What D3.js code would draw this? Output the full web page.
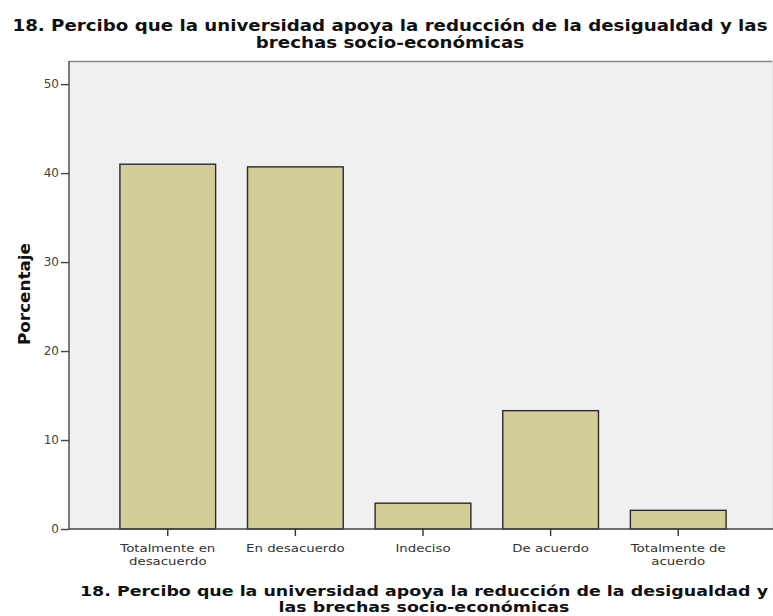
<!DOCTYPE html>
<html><head><meta charset="utf-8">
<script src="https://cdn.jsdelivr.net/npm/d3@7"></script>
<style>body{margin:0;background:#fff}</style>
</head><body>
<svg id="c" width="773" height="616"></svg>
<script>
const categories = ["Totalmente en desacuerdo", "En desacuerdo", "Indeciso", "De acuerdo", "Totalmente de acuerdo"];
const labelLines = [["Totalmente en","desacuerdo"],["En desacuerdo"],["Indeciso"],["De acuerdo"],["Totalmente de","acuerdo"]];
const values = [41.0, 40.7, 2.9, 13.3, 2.1];
const yTicks = [0, 10, 20, 30, 40, 50];
const titleLines = ["18. Percibo que la universidad apoya la reducción de la desigualdad y las", "brechas socio-económicas"];
const xTitleLines = ["18. Percibo que la universidad apoya la reducción de la desigualdad y", "las brechas socio-económicas"];
const yTitle = "Porcentaje";

const svg = d3.select("#c");
const plot = {l:69, r:772, t:61, b:529};
const FONT = "'DejaVu Sans',sans-serif";

function measure(txt, fs, bold){
  const t = svg.append("text").attr("font-family",FONT).attr("font-weight",bold?"bold":"normal").attr("font-size",fs).text(txt);
  const w = t.node().getComputedTextLength(); t.remove(); return w;
}

svg.append("rect").attr("x",plot.l).attr("y",plot.t).attr("width",plot.r-plot.l).attr("height",plot.b-plot.t)
  .attr("fill","#f0f0f0");
svg.append("line").attr("x1",plot.l).attr("x2",773).attr("y1",plot.t+0.5).attr("y2",plot.t+0.5)
  .attr("stroke","#888").attr("stroke-width",1.5);
svg.append("line").attr("x1",plot.r+0.5).attr("x2",plot.r+0.5).attr("y1",plot.t).attr("y2",plot.b)
  .attr("stroke","#e4e4e4").attr("stroke-width",1);

const x = d3.scaleBand().domain(categories).range([88, 758]).paddingInner(0.25).paddingOuter(0.25);
const y = d3.scaleLinear().domain([0, 52.6]).range([plot.b, plot.t]);

svg.append("g").selectAll("rect").data(categories).join("rect")
  .attr("x", d => x(d)).attr("width", x.bandwidth())
  .attr("y", (d,i) => y(values[i])).attr("height", (d,i) => y(0) - y(values[i]))
  .attr("fill", "#d3ce97").attr("stroke", "#2a2a2a").attr("stroke-width", 1.4);

// y axis
const ya = svg.append("g").attr("transform", `translate(${plot.l},0)`)
  .call(d3.axisLeft(y).tickValues(yTicks).tickSize(8).tickFormat(d3.format("d")));
ya.select(".domain").attr("stroke","#444").attr("stroke-width",1.4).attr("d", `M0,${plot.t}V${plot.b}`);
ya.selectAll(".tick line").attr("stroke","#444").attr("stroke-width",1.4);
ya.selectAll(".tick text").attr("font-family",FONT).attr("font-size",12).attr("fill","#444").attr("x",-10);

// x axis
const TF = 11.2;
const stretch = 95 / measure("Totalmente en", TF, false);
const xa = svg.append("g").attr("transform", `translate(0,${plot.b})`)
  .call(d3.axisBottom(x).tickSize(7).tickFormat(""));
xa.select(".domain").attr("stroke","#444").attr("stroke-width",1.4).attr("d", `M${plot.l},0H773`);
xa.selectAll(".tick line").attr("stroke","#333").attr("stroke-width",1.4);
xa.selectAll(".tick").each(function(d,i){
  const g = d3.select(this);
  labelLines[i].forEach((ln,k)=> g.append("text").attr("font-family",FONT).attr("font-size",TF).attr("fill","#333")
    .attr("text-anchor","middle").attr("x",0).attr("y",23 + k*13)
    .attr("textLength", measure(ln, TF, false)*stretch).attr("lengthAdjust","spacingAndGlyphs").text(ln));
});

function titleText(txt, cx, cy, len, fs){
  return svg.append("text").attr("x",cx).attr("y",cy).attr("text-anchor","middle")
    .attr("font-family",FONT).attr("font-weight","bold").attr("font-size",fs).attr("fill","#111")
    .attr("textLength",len).attr("lengthAdjust","spacingAndGlyphs").text(txt);
}
// title
const FS = 15;
const r1 = 755 / measure(titleLines[0], FS, true);
titleText(titleLines[0], 390, 30.5, 755, FS);
titleText(titleLines[1], 390, 48, measure(titleLines[1], FS, true)*r1, FS);
// x title
const FX = 14.5;
const r2 = 688 / measure(xTitleLines[0], FX, true);
titleText(xTitleLines[0], 424, 595.5, 688, FX);
titleText(xTitleLines[1], 424, 612, measure(xTitleLines[1], FX, true)*r2, FX);

// y title
svg.append("text").attr("transform","translate(30,294) rotate(-90)").attr("text-anchor","middle")
  .attr("font-family",FONT).attr("font-weight","bold").attr("font-size",16).attr("fill","#111")
  .attr("textLength",102).attr("lengthAdjust","spacingAndGlyphs").text(yTitle);
</script>
</body></html>
